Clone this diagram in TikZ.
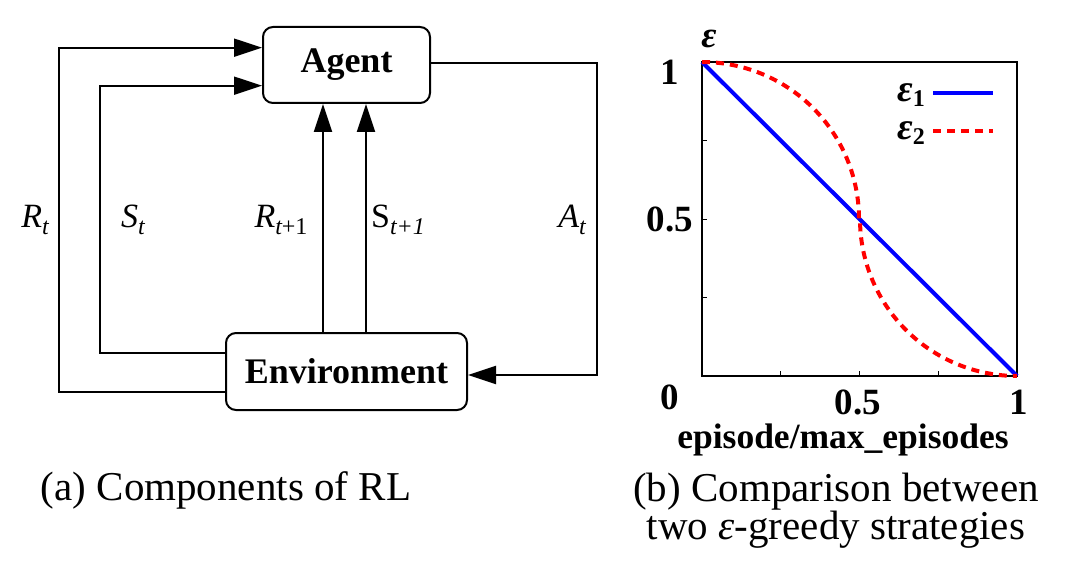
\documentclass[tikz,border=0pt]{standalone}
\usepackage{fontspec}
\setmainfont{Liberation Serif}
\usetikzlibrary{arrows.meta}
\newcommand{\lowsub}[1]{\raisebox{-7pt}{\fontsize{24}{24}\selectfont #1}}
\begin{document}
\begin{tikzpicture}[x=1pt,y=-1pt,
  box/.style={draw, line width=2pt, rounded corners=10pt, inner sep=0pt,
    font=\fontsize{36}{40}\selectfont\bfseries},
  conn/.style={line width=2pt},
  arr/.style={conn, -{Triangle[length=28pt,width=18pt]}},
  lbl/.style={font=\fontsize{34}{36}\selectfont, inner sep=0pt},
  ticklbl/.style={font=\fontsize{37}{40}\selectfont\bfseries, inner sep=0pt},
  captxt/.style={font=\fontsize{41}{38}\selectfont, inner sep=0pt, align=center},
  tickmk/.style={line width=1pt}]
\useasboundingbox (0,0) rectangle (1074,575);
% (a) components of RL
\node[box, minimum width=167pt, minimum height=76pt] (agent) at (346.5,65) {Agent};
\node[box, minimum width=241pt, minimum height=77pt] (env) at (346.5,371.5) {Environment};
\coordinate (rtc) at (59,392);
\coordinate (stc) at (100,353);
\coordinate (atc) at (597,63);
\draw[arr] (env.west |- rtc) -- (rtc) |- (agent.west |- 0,47.7);
\draw[arr] (env.west |- stc) -- (stc) |- (agent.west |- 0,85.7);
\draw[arr] (env.north -| 323,0) -- (agent.south -| 323,0);
\draw[arr] (env.north -| 366,0) -- (agent.south -| 366,0);
\draw[arr] (agent.east |- atc) -- (atc) |- (env.east |- 0,375);
\node[lbl] (lrt) at (35,220) {\itshape R\lowsub{t}};
\node[lbl] (lst) at (133,220) {\itshape S\lowsub{t}};
\node[lbl] (lrt1) at (281,220) {\itshape R\lowsub{t\upshape +1}};
\node[lbl] (lst1) at (398,220) {S\lowsub{\itshape t+1}};
\node[lbl] (lat) at (572,220) {\itshape A\lowsub{t}};
\node[captxt] (capa) at (226,490) {(a) Components of RL};
% (b) plot
\draw[line width=2.5pt] (702,62) rectangle (1017,376);
\foreach \t in {780.75,859.5,938.25} \draw[tickmk] (\t,376) -- (\t,371);
\foreach \t in {140.5,219,297.5} \draw[tickmk] (702,\t) -- (707,\t);
\draw[blue, line width=4pt] (702,62) -- (1017,376);
\draw[red, line width=4pt, dash pattern=on 8pt off 6pt]
  plot[domain=0:90, samples=40, smooth] ({702+157*sin(\x)},{219-157*cos(\x)})
  -- plot[domain=90:0, samples=40, smooth] ({1017-157*sin(\x)},{219+157*cos(\x)});
\node[ticklbl] (y1) at (670,72) {1};
\node[ticklbl] (y05) at (670,219) {0.5};
\node[ticklbl] (y0) at (670,397) {0};
\node[ticklbl] (x05) at (858,402) {0.5};
\node[ticklbl] (x1) at (1019,402) {1};
\node[ticklbl] (eps) at (709,39) {\itshape ε};
\node[ticklbl, font=\fontsize{35.5}{36}\selectfont\bfseries] (xlab) at (843,440) {episode/max\_episodes};
\node[ticklbl, font=\fontsize{38}{38}\selectfont\bfseries, anchor=east] (leg1) at (925,95) {\itshape ε\raisebox{-5pt}{\fontsize{24}{24}\selectfont\upshape 1}};
\node[ticklbl, font=\fontsize{38}{38}\selectfont\bfseries, anchor=east] (leg2) at (925,133) {\itshape ε\raisebox{-5pt}{\fontsize{24}{24}\selectfont\upshape 2}};
\draw[blue, line width=4pt] (933,93) -- (993,93);
\draw[red, line width=4pt, dash pattern=on 8pt off 6pt] (933,131) -- (993,131);
\node[captxt] (capb) at (836,511) {(b) Comparison between\\two {\itshape ε}-greedy strategies};
\end{tikzpicture}
\end{document}
